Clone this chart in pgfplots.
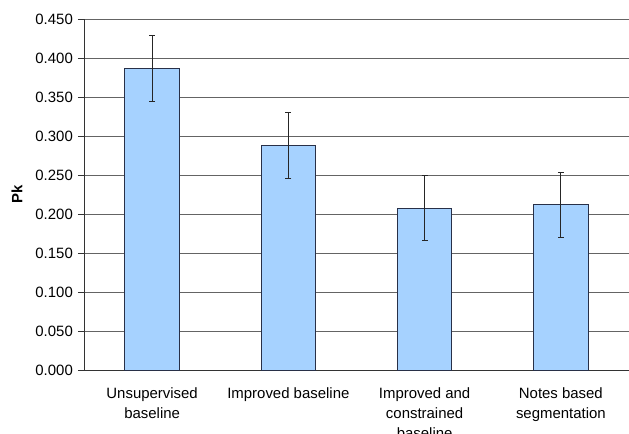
\documentclass[border=0pt]{standalone}
\usepackage{fontspec}
\setmainfont{Liberation Sans}
\usepackage{pgfplots}
\pgfplotsset{compat=1.18}

\definecolor{barfill}{RGB}{166,210,255}
\definecolor{baredge}{RGB}{40,48,72}
\definecolor{gridc}{RGB}{100,100,100}

\begin{document}
\begin{tikzpicture}
\fontsize{15}{20}\selectfont
\begin{axis}[
    name=ax,
    scale only axis,
    width=545bp, height=351.5bp,
    xmin=-0.5, xmax=3.5,
    ymin=0, ymax=0.45,
    axis x line*=bottom,
    axis y line*=left,
    axis line style={black!80, line width=0.8pt},
    ytick={0,0.05,0.1,0.15,0.2,0.25,0.3,0.35,0.4,0.45},
    yticklabel style={font=\fontsize{15}{18}\selectfont, /pgf/number format/fixed, /pgf/number format/precision=3,
        /pgf/number format/fixed zerofill, /pgf/number format/assume math mode=true},
    ymajorgrids,
    major grid style={gridc, line width=0.8pt},
    xtick={0,1,2,3},
    xticklabels={{Unsupervised\\baseline}, {Improved baseline},
        {Improved and\\constrained\\baseline}, {Notes based\\segmentation}},
    xticklabel style={align=center, font=\fontsize{15}{20}\selectfont, yshift=-6bp},
    x tick style={draw=none},
    minor xtick={0.5,1.5,2.5,3.5},
    minor x tick style={black!80, line width=0.8pt},
    y tick style={black!80, line width=0.8pt},
    tick align=outside,
    major tick length=6bp,
    minor tick length=6bp,
    ylabel={\textbf{Pk}},
    every axis y label/.style={at={(axis description cs:0,0.5)}, xshift=-67bp, rotate=90, anchor=center, font=\fontsize{15}{18}\selectfont},
]
\addplot[ybar, bar width=54.5bp, fill=barfill, draw=baredge, line width=0.9pt,
    error bars/.cd, y dir=both, y explicit,
    error bar style={black!85, line width=0.8pt},
    error mark options={rotate=90, black!85, line width=0.8pt, mark size=3bp}]
    coordinates {
    (0,0.387) +- (0,0.042)
    (1,0.288) +- (0,0.042)
    (2,0.208) +- (0,0.042)
    (3,0.212) +- (0,0.042)
    };
\end{axis}
\pgfresetboundingbox
\path[use as bounding box] ([xshift=-84bp,yshift=-63.5bp]ax.south west) rectangle ([yshift=19bp]ax.north east);
\end{tikzpicture}
\end{document}
